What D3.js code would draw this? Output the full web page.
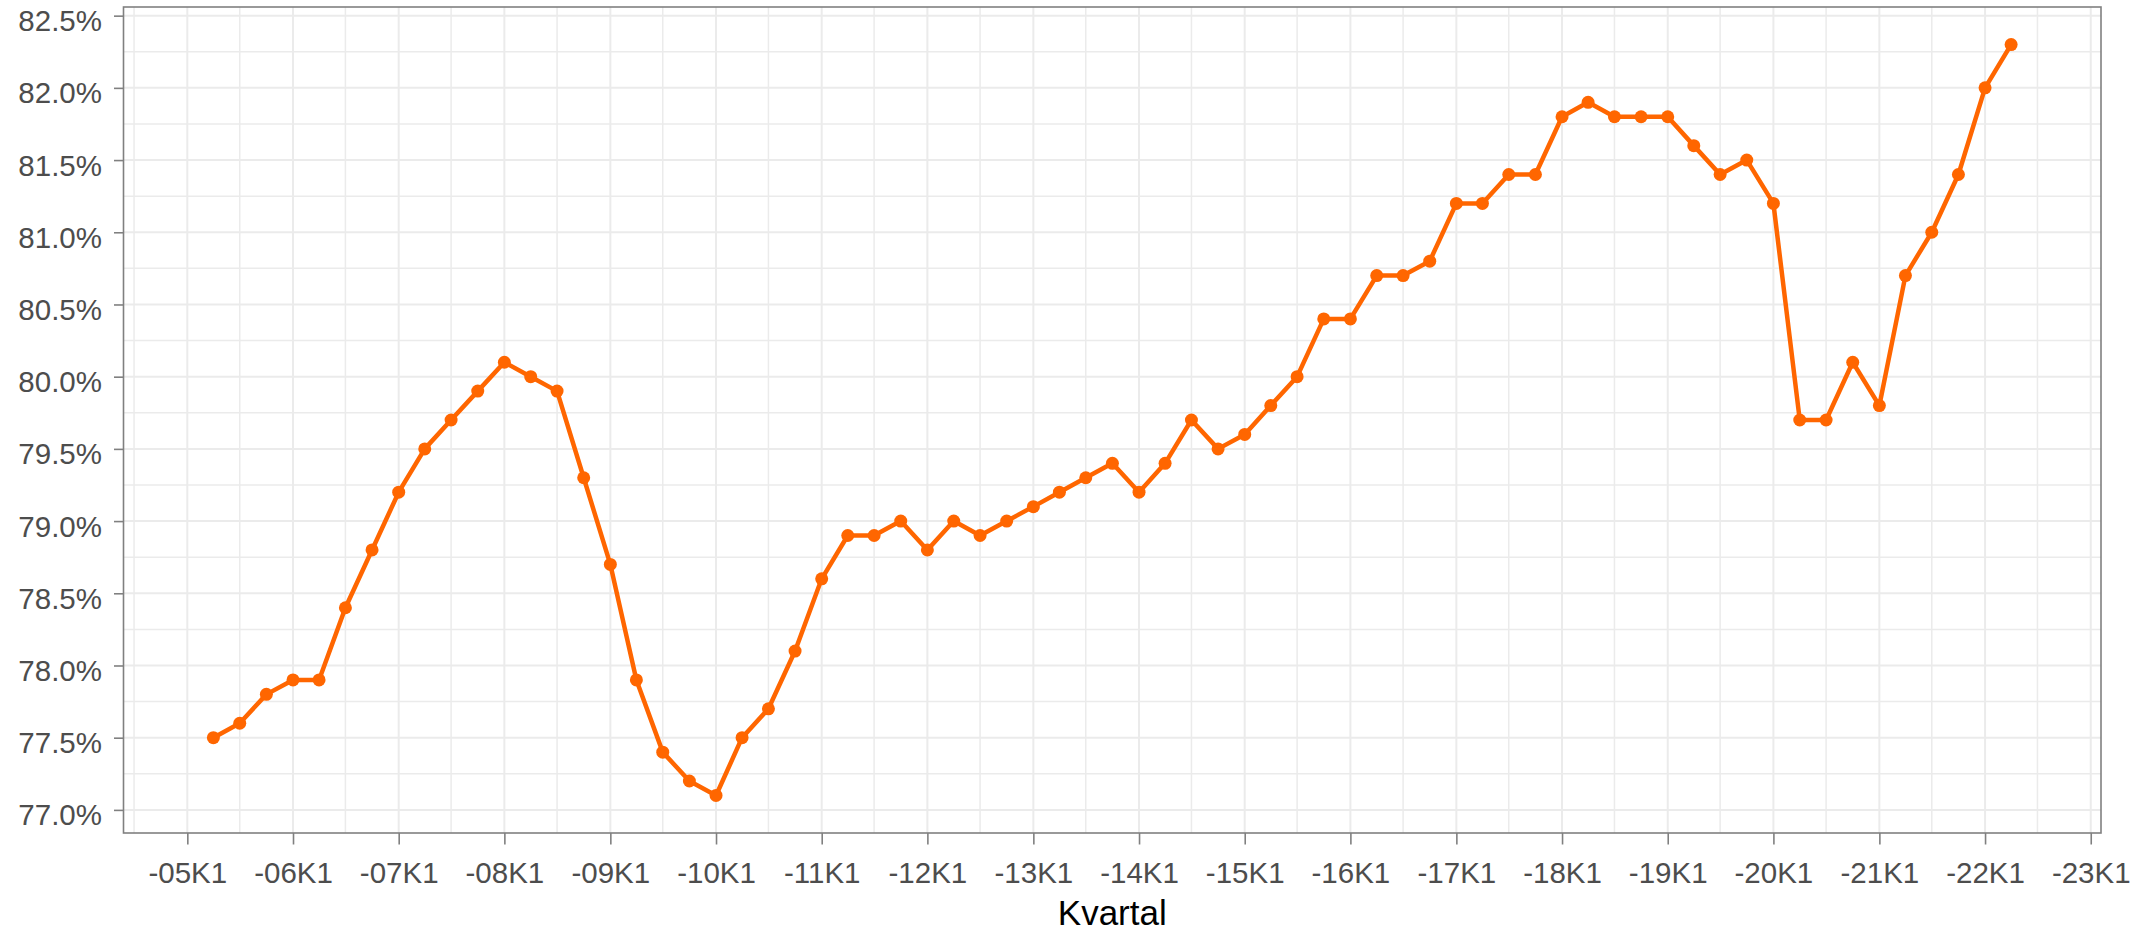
<!DOCTYPE html>
<html>
<head>
<meta charset="utf-8">
<script src="https://cdn.jsdelivr.net/npm/d3@7"></script>
<style>
  body { margin: 0; background: #fff; }
  svg { display: block; font-family: 'Liberation Sans', Arial, sans-serif; }
</style>
</head>
<body>
<div id="chart"></div>
<script>
// Quarters (year + K + quarter) and the share in percent
const kvartal = [
  '2005K2', '2005K3', '2005K4',
  '2006K1', '2006K2', '2006K3', '2006K4',
  '2007K1', '2007K2', '2007K3', '2007K4',
  '2008K1', '2008K2', '2008K3', '2008K4',
  '2009K1', '2009K2', '2009K3', '2009K4',
  '2010K1', '2010K2', '2010K3', '2010K4',
  '2011K1', '2011K2', '2011K3', '2011K4',
  '2012K1', '2012K2', '2012K3', '2012K4',
  '2013K1', '2013K2', '2013K3', '2013K4',
  '2014K1', '2014K2', '2014K3', '2014K4',
  '2015K1', '2015K2', '2015K3', '2015K4',
  '2016K1', '2016K2', '2016K3', '2016K4',
  '2017K1', '2017K2', '2017K3', '2017K4',
  '2018K1', '2018K2', '2018K3', '2018K4',
  '2019K1', '2019K2', '2019K3', '2019K4',
  '2020K1', '2020K2', '2020K3', '2020K4',
  '2021K1', '2021K2', '2021K3', '2021K4',
  '2022K1', '2022K2'
]
const andel = [
  77.5, 77.6, 77.8,
  77.9, 77.9, 78.4, 78.8,
  79.2, 79.5, 79.7, 79.9,
  80.1, 80.0, 79.9, 79.3,
  78.7, 77.9, 77.4, 77.2,
  77.1, 77.5, 77.7, 78.1,
  78.6, 78.9, 78.9, 79.0,
  78.8, 79.0, 78.9, 79.0,
  79.1, 79.2, 79.3, 79.4,
  79.2, 79.4, 79.7, 79.5,
  79.6, 79.8, 80.0, 80.4,
  80.4, 80.7, 80.7, 80.8,
  81.2, 81.2, 81.4, 81.4,
  81.8, 81.9, 81.8, 81.8,
  81.8, 81.6, 81.4, 81.5,
  81.2, 79.7, 79.7, 80.1,
  79.8, 80.7, 81.0, 81.4,
  82.0, 82.3
]
// Axis ticks
const yTicks = [77.0, 77.5, 78.0, 78.5, 79.0, 79.5, 80.0, 80.5, 81.0, 81.5, 82.0, 82.5]
const yMinor = [77.25, 77.75, 78.25, 78.75, 79.25, 79.75, 80.25, 80.75, 81.25, 81.75, 82.25]
const xYears = [2005, 2006, 2007, 2008, 2009, 2010, 2011, 2012, 2013, 2014,
                2015, 2016, 2017, 2018, 2019, 2020, 2021, 2022, 2023]
const xMinorYears = [2004, 2005, 2006, 2007, 2008, 2009, 2010, 2011, 2012, 2013,
                     2014, 2015, 2016, 2017, 2018, 2019, 2020, 2021, 2022]
const xTitle = 'Kvartal'

let chartWidth = 2133
let chartHeight = 933
let panel = { left: 123.5, right: 2101, top: 7, bottom: 833 }

// Turn "2005K2" into the first day of that quarter
let parseQuarter = (s) => new Date(+s.slice(0, 4), (+s.slice(5) - 1) * 3, 1)
let data = kvartal.map((k, i) => ({ date: parseQuarter(k), value: andel[i] }))

// ggplot style 5% expansion on both axes
let xExt = d3.extent(data, d => +d.date)
let xPad = (xExt[1] - xExt[0]) * 0.05
let yExt = d3.extent(data, d => d.value)
let yPad = (yExt[1] - yExt[0]) * 0.05

let x = d3.scaleTime()
  .domain([new Date(xExt[0] - xPad), new Date(xExt[1] + xPad)])
  .range([panel.left, panel.right])
let y = d3.scaleLinear()
  .domain([yExt[0] - yPad, yExt[1] + yPad])
  .range([panel.bottom, panel.top])

let svg = d3.select('#chart')
  .append('svg')
  .attr('width', chartWidth)
  .attr('height', chartHeight)

let grid = svg.append('g')

// minor grid
grid.selectAll('.ymin')
  .data(yMinor)
  .enter()
  .append('line')
  .attr('x1', panel.left).attr('x2', panel.right)
  .attr('y1', d => y(d)).attr('y2', d => y(d))
  .attr('stroke', '#ebebeb').attr('stroke-width', 1.5)
grid.selectAll('.xmin')
  .data(xMinorYears.map(yr => new Date(yr, 6, 1)))
  .enter()
  .append('line')
  .attr('y1', panel.top).attr('y2', panel.bottom)
  .attr('x1', d => x(d)).attr('x2', d => x(d))
  .attr('stroke', '#ebebeb').attr('stroke-width', 1.5)

// major grid
grid.selectAll('.ymaj')
  .data(yTicks)
  .enter()
  .append('line')
  .attr('x1', panel.left).attr('x2', panel.right)
  .attr('y1', d => y(d)).attr('y2', d => y(d))
  .attr('stroke', '#ebebeb').attr('stroke-width', 2)
grid.selectAll('.xmaj')
  .data(xYears.map(yr => new Date(yr, 0, 1)))
  .enter()
  .append('line')
  .attr('y1', panel.top).attr('y2', panel.bottom)
  .attr('x1', d => x(d)).attr('x2', d => x(d))
  .attr('stroke', '#ebebeb').attr('stroke-width', 2)

// the line and the points
let line = d3.line()
  .x(d => x(d.date))
  .y(d => y(d.value))

svg.append('path')
  .datum(data)
  .attr('d', line)
  .attr('fill', 'none')
  .attr('stroke', '#ff6600')
  .attr('stroke-width', 4.5)
  .attr('stroke-linejoin', 'round')

svg.selectAll('circle')
  .data(data)
  .enter()
  .append('circle')
  .attr('cx', d => x(d.date))
  .attr('cy', d => y(d.value))
  .attr('r', 6.5)
  .attr('fill', '#ff6600')

// panel border
svg.append('rect')
  .attr('x', panel.left)
  .attr('y', panel.top)
  .attr('width', panel.right - panel.left)
  .attr('height', panel.bottom - panel.top)
  .attr('fill', 'none')
  .attr('stroke', '#808080')
  .attr('stroke-width', 1.6)

// axes
let xAxis = svg.append('g')
  .attr('transform', `translate(0,${panel.bottom})`)
  .call(d3.axisBottom(x)
    .tickValues(xYears.map(yr => new Date(yr, 0, 1)))
    .tickFormat(d3.timeFormat('-%yK1'))
    .tickSize(11.5)
    .tickPadding(17.5))
let yAxis = svg.append('g')
  .attr('transform', `translate(${panel.left},0)`)
  .call(d3.axisLeft(y)
    .tickValues(yTicks)
    .tickFormat(d => d.toFixed(1) + '%')
    .tickSize(9.5)
    .tickPadding(12))

for (let ax of [xAxis, yAxis]) {
  ax.select('.domain').remove()
  ax.selectAll('.tick line').attr('stroke', '#808080').attr('stroke-width', 1.6)
  ax.selectAll('.tick text')
    .attr('fill', '#4d4d4d')
    .style('font-size', '29.5px')
}
yAxis.selectAll('.tick text').attr('dy', '15px')

svg.append('text')
  .attr('x', (panel.left + panel.right) / 2)
  .attr('y', 925)
  .attr('text-anchor', 'middle')
  .attr('fill', '#000')
  .style('font-size', '35px')
  .text(xTitle)
</script>
</body>
</html>
